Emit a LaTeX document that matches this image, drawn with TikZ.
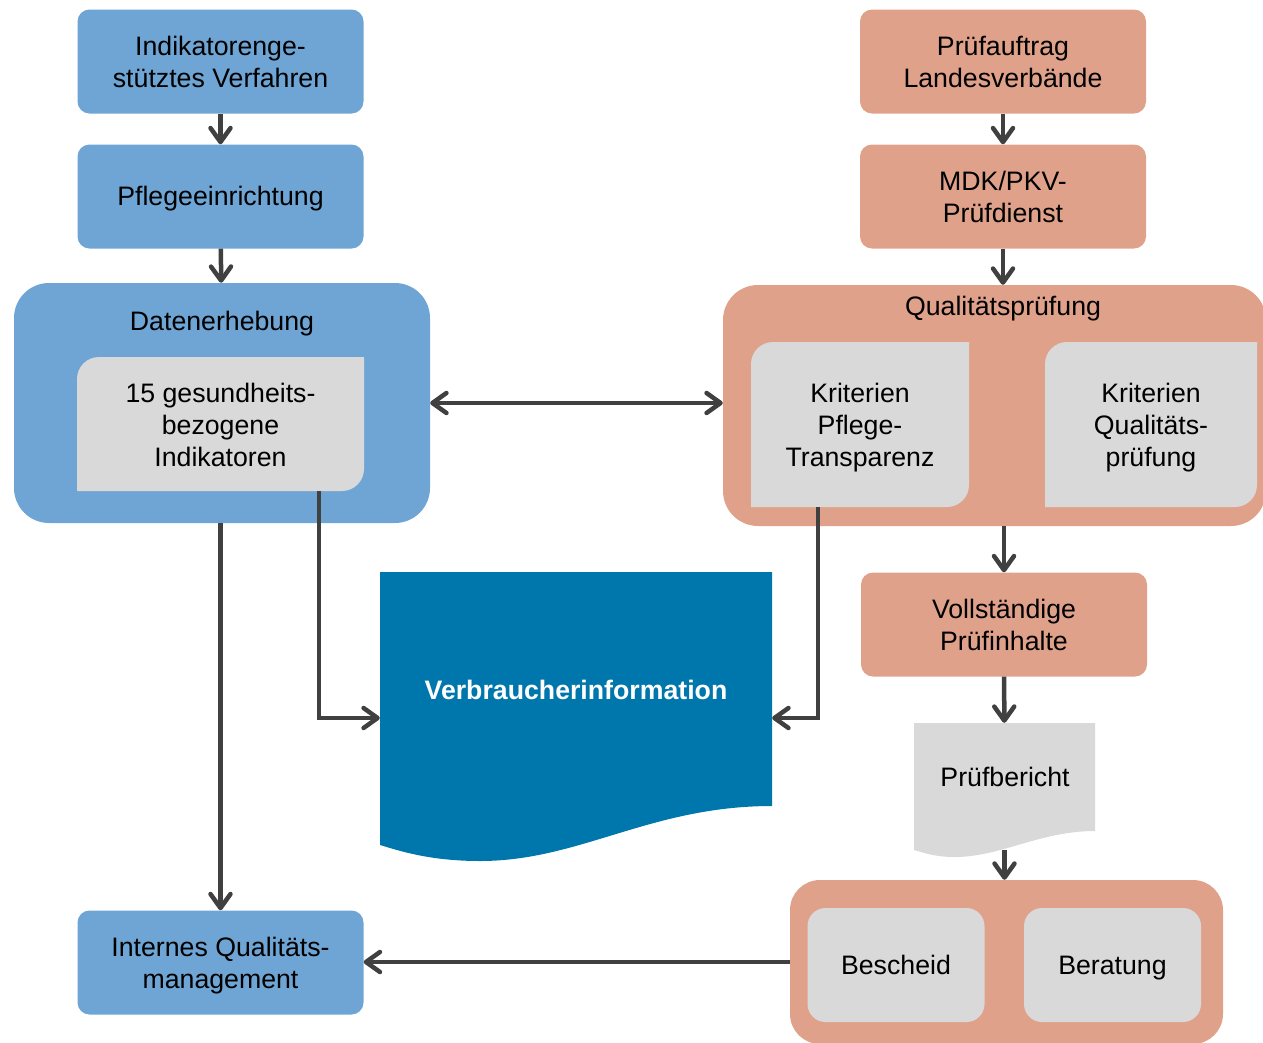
\documentclass[tikz,border=0pt]{standalone}
\usepackage{fontspec}
\setmainfont{Liberation Sans}
\usetikzlibrary{arrows.meta}
\definecolor{cblue}{HTML}{6FA5D4}
\definecolor{csalmon}{HTML}{E0A18B}
\definecolor{cgrey}{HTML}{D9D9D9}
\definecolor{cdark}{HTML}{0077AC}
\definecolor{carrow}{HTML}{404040}
\newcommand\mystrutx{\vrule height 24.2pt depth 5.7pt width 0pt\relax}
\begin{document}
\begin{tikzpicture}[x=1pt,y=-1pt,
  every node/.style={font=\fontsize{26.7}{32}\selectfont, align=center, inner sep=0pt,
    execute at begin node=\mystrutx},
  mltext/.style={yshift=-3.5pt},
  bluebox/.style={fill=cblue, rounded corners=12, minimum width=286, minimum height=104},
  salbox/.style={fill=csalmon, rounded corners=12, minimum width=286, minimum height=104},
  bigbox/.style={rounded corners=35},
  greybox/.style={fill=cgrey, rounded corners=18, minimum width=177, minimum height=114},
  arr/.style={draw=carrow, line width=4.5, -{Straight Barb[length=14pt,width=20pt,round]}},
  arrboth/.style={draw=carrow, line width=4.5, {Straight Barb[length=14pt,width=20pt,round]}-{Straight Barb[length=14pt,width=20pt,round]}}
]
\useasboundingbox (0,0) rectangle (1263,1042);

% left column
\node[bluebox] (ind) at (220.5,61.5) {};
\node[mltext] (indt) at (ind) {Indikatorenge-\\stütztes Verfahren};
\node[bluebox] (pfl) at (220.5,196.5) {Pflegeeinrichtung};
\node[bigbox, fill=cblue, minimum width=416, minimum height=240] (dat) at (222,403) {};
\node (dattitle) at (222,321) {Datenerhebung};
\fill[cgrey] (77,491) [rounded corners=22] -- (77,357) [sharp corners] -- (364,357) [rounded corners=22] -- (364,491) [sharp corners] -- cycle;
\node[minimum width=287, minimum height=134] (ind15) at (220.5,424) {};
\node[mltext] (ind15t) at (ind15) {15 gesundheits-\\bezogene\\Indikatoren};
\node[bluebox] (iqm) at (220.5,962.5) {};
\node[mltext] (iqmt) at (iqm) {Internes Qualitäts-\\management};

% right column
\node[salbox] (pa) at (1003,61.5) {};
\node[mltext] (pat) at (pa) {Prüfauftrag\\Landesverbände};
\node[salbox] (mdk) at (1003,196.5) {};
\node[mltext] (mdkt) at (mdk) {MDK/PKV-\\Prüfdienst};
\node[bigbox, fill=csalmon, minimum width=543, minimum height=241] (qual) at (994.5,405.5) {};
\node (qualtitle) at (1003,306) {Qualitätsprüfung};
\fill[cgrey] (751,507) [rounded corners=22] -- (751,342) [sharp corners] -- (969,342) [rounded corners=22] -- (969,507) [sharp corners] -- cycle;
\node[minimum width=218, minimum height=165] (kpt) at (860,424.5) {};
\node[mltext] (kptt) at (kpt) {Kriterien\\Pflege-\\Transparenz};
\fill[cgrey] (1045,507) [rounded corners=22] -- (1045,342) [sharp corners] -- (1257,342) [rounded corners=22] -- (1257,507) [sharp corners] -- cycle;
\node[minimum width=212, minimum height=165] (kqp) at (1151,424.5) {};
\node[mltext] (kqpt) at (kqp) {Kriterien\\Qualitäts-\\prüfung};
\node[salbox] (voll) at (1004,624.5) {};
\node[mltext] (vollt) at (voll) {Vollständige\\Prüfinhalte};
\fill[cgrey] (914,723) -- (1095,723) -- (1095,831) .. controls (1040,831) and (1000,857) .. (955,857) .. controls (935,857) and (925,853) .. (914,850) -- cycle;
\node[minimum width=181, minimum height=127] (pb) at (1004.5,786.5) {};
\node (pbt) at (1005,777) {Prüfbericht};
\node[fill=csalmon, rounded corners=30, minimum width=433, minimum height=164] (cont) at (1006.5,962) {};
\node[greybox] (besch) at (896,965) {Bescheid};
\node[greybox] (berat) at (1112.5,965) {Beratung};

% centre document
\fill[cdark] (380,572) -- (772,572) -- (772,806) .. controls (650,806) and (580,861) .. (480,861) .. controls (430,861) and (400,851) .. (380,845) -- cycle;
\node[minimum width=392, minimum height=292] (verb) at (576,718) {};
\node[text=white, font=\fontsize{26.7}{32}\selectfont\bfseries] (verbt) at (576,690) {Verbraucherinformation};

% connectors
\draw[arr] (ind) -- (pfl);
\draw[arr] (pfl) -- (dat);
\draw[arr] (pa) -- (mdk);
\draw[arr] (mdk) -- (mdk.south |- qual.north);
\draw[arrboth] (dat.east) -- (dat.east -| qual.west);
\draw[arr] (voll.north |- qual.south) -- (voll.north);
\draw[arr] (voll) -- (pb);
\draw[arr] (pb.south) -- (pb.south |- cont.north);
\draw[arr] (iqm.north |- dat.south) -- (iqm.north);
\draw[arr] ([xshift=98.5]ind15.south) |- (verb.west);
\draw[arr] ([xshift=-42]kpt.south) |- (verb.east);
\draw[arr] (cont.west) -- (cont.west -| iqm.east);
\end{tikzpicture}
\end{document}
